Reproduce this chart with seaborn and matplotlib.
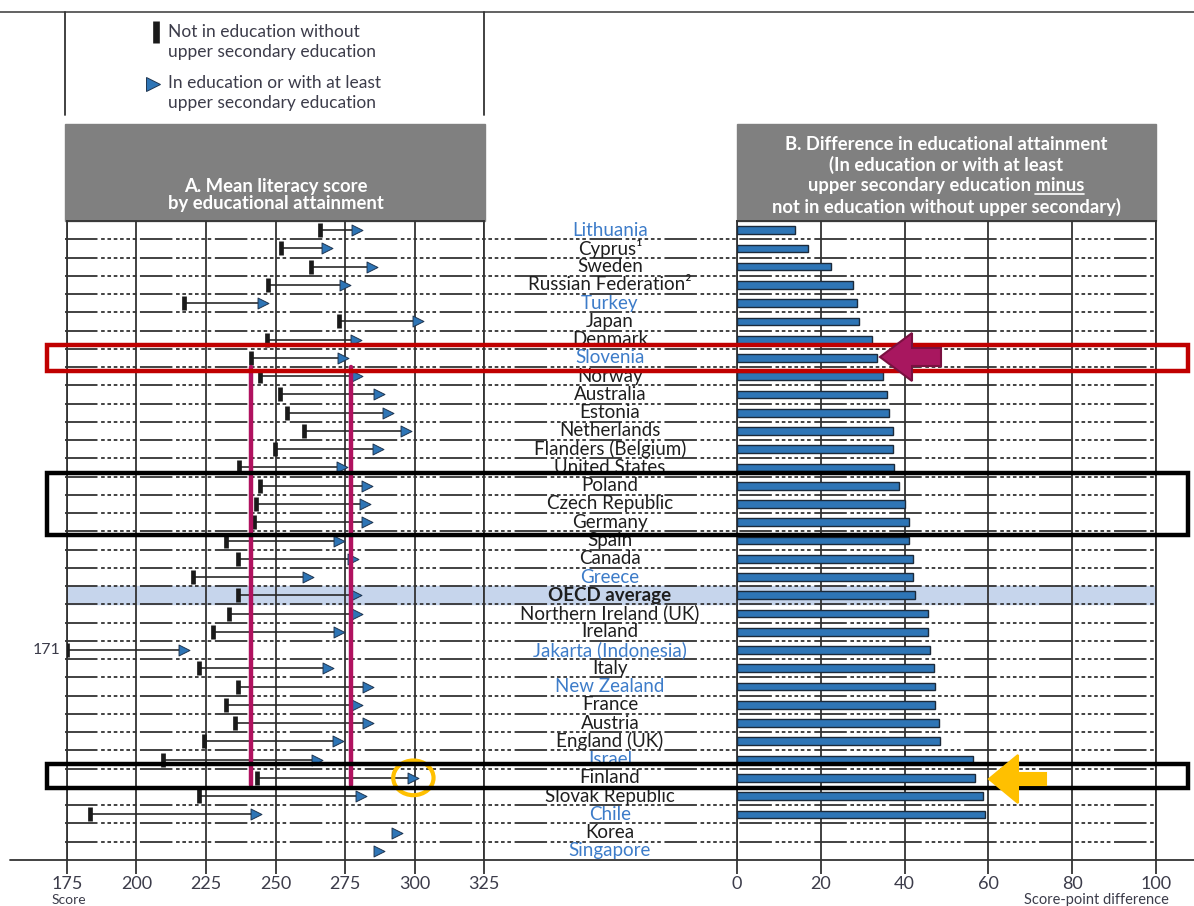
import numpy as np
import pandas as pd
import matplotlib
matplotlib.use("Agg")
import matplotlib.pyplot as plt
import seaborn as sns
from matplotlib.lines import Line2D
from matplotlib.patches import Rectangle, Ellipse, Polygon

# Daten
laender = ["Lithuania", "Cyprus¹", "Sweden", "Russian Federation²", "Turkey", "Japan",
           "Denmark", "Slovenia", "Norway", "Australia", "Estonia", "Netherlands",
           "Flanders (Belgium)", "United States", "Poland", "Czech Republic", "Germany",
           "Spain", "Canada", "Greece", "OECD average", "Northern Ireland (UK)", "Ireland",
           "Jakarta (Indonesia)", "Italy", "New Zealand", "France", "Austria", "England (UK)",
           "Israel", "Finland", "Slovak Republic", "Chile", "Korea", "Singapore"]

partner = ["Lithuania", "Turkey", "Slovenia", "Greece", "Jakarta (Indonesia)", "New Zealand",
           "Israel", "Chile", "Singapore"]

# Not in education without upper secondary education
score_niedrig = [266.0, 252.0, 262.7, 247.2, 217.2, 272.8, 247.0, 241.1, 244.5, 251.6,
                 254.2, 260.4, 249.9, 236.8, 244.5, 243.0, 242.4, 232.2, 236.4, 220.4,
                 236.4, 233.4, 227.6, 171.0, 222.5, 236.4, 232.2, 235.4, 224.2, 209.5,
                 243.3, 222.5, 183.3, np.nan, np.nan]

# In education or with at least upper secondary education
score_hoch = [279.4, 268.6, 284.8, 275.0, 245.4, 301.2, 278.8, 274.2, 279.4, 287.3,
              290.3, 297.0, 286.7, 273.8, 282.8, 282.2, 282.8, 272.8, 278.0, 261.8,
              278.9, 279.4, 272.8, 217.2, 269.0, 283.4, 279.4, 283.4, 272.4, 265.0,
              299.6, 280.8, 242.9, 293.8, 287.3]

# Differenz (Panel B)
differenz = [13.8, 17.0, 22.4, 27.8, 28.6, 29.0, 32.3, 33.5, 34.8, 35.9,
             36.2, 37.2, 37.2, 37.5, 38.7, 40.0, 41.1, 41.1, 41.9, 42.0,
             42.4, 45.7, 45.7, 46.1, 46.9, 47.3, 47.3, 48.1, 48.5, 56.3,
             56.7, 58.7, 59.1, np.nan, np.nan]

ticks_a = [175, 200, 225, 250, 275, 300, 325]
ticks_b = [0, 20, 40, 60, 80, 100]

df = pd.DataFrame({"Land": laender, "niedrig": score_niedrig,
                   "hoch": score_hoch, "Differenz": differenz})
df["pos"] = np.arange(len(df))

sns.set_style("white")
plt.rcParams['font.family'] = ['Lato', 'DejaVu Sans']

W, H = 1194, 906
fig = plt.figure(figsize=(W / 100, H / 100), dpi=100)

def px(x, y):
    return x / W, 1 - y / H

def ax_rect(x0, x1, y0, y1):
    return [x0 / W, 1 - y1 / H, (x1 - x0) / W, (y1 - y0) / H]

blau = "#2e75b6"
dunkel = "#2a2a2a"
textgrau = "#3c3c4a"
n = len(df)
ylim = (n - 0.5, -0.5)

# Hintergrund-Achse: Zeilenlinien, OECD-Band, Ländernamen
ax_bg = fig.add_axes(ax_rect(65, 1156, 221, 860))
ax_bg.set_xlim(0, 1)
ax_bg.set_ylim(*ylim)
ax_bg.axis("off")
oecd = df.index[df["Land"] == "OECD average"][0]
ax_bg.axhspan(oecd - 0.5, oecd + 0.5, xmin=0.002, xmax=1, color="#c6d5ec", zorder=0)
for i in range(n - 1):
    ax_bg.axhline(i + 0.5, color="#333333", lw=1.3,
                  linestyle=(0, (18, 2, 2, 1.5, 2, 1.5, 2, 1.5, 2, 1.5, 2, 1.5, 2, 2)), zorder=1)
for i, land in enumerate(df["Land"]):
    farbe = "#3d7cc9" if land in partner else "#1e1e1e"
    gewicht = "bold" if land == "OECD average" else "normal"
    ax_bg.text(0.4995, i, land, ha="center", va="center", fontsize=13.5,
               color=farbe, fontweight=gewicht, zorder=3)

# Panel A
ax_a = fig.add_axes(ax_rect(67, 484, 221, 860))
ax_a.set_facecolor("none")
ax_a.set_xlim(175, 325)
ax_a.set_ylim(*ylim)
niedrig_plot = df["niedrig"].clip(lower=175)
ax_a.hlines(df["pos"], niedrig_plot, df["hoch"] - 1.5, color=dunkel, lw=1.2, zorder=3)
ax_a.plot(niedrig_plot, df["pos"], linestyle="none", marker="|", ms=10, mew=3.4,
          color="#1a1a1a", zorder=4)
sns.scatterplot(data=df, x="hoch", y="pos", marker=">", s=62, color=blau,
                edgecolor="#1f3550", linewidth=0.7, ax=ax_a, zorder=5, legend=False)
ax_a.set_ylim(*ylim)
ax_a.set_xticks(ticks_a)
ax_a.set_xticklabels([str(t) for t in ticks_a], fontsize=13, color=textgrau)
ax_a.set_yticks([])
ax_a.set_xlabel("")
ax_a.set_ylabel("")
ax_a.grid(axis="x", color="#333333", lw=1.3)
ax_a.tick_params(axis="x", direction="out", length=10, width=1.3, color="#333333", pad=1.5,
                 bottom=True)
for s in ["left", "right", "top"]:
    ax_a.spines[s].set_color("#333333")
    ax_a.spines[s].set_linewidth(1.3)
ax_a.spines["bottom"].set_visible(False)
# Wert ausserhalb der Achse (Jakarta)
for i, v in enumerate(df["niedrig"]):
    if v < 175:
        ax_a.text(-0.015, i, f"{v:.0f}", transform=ax_a.get_yaxis_transform(),
                  ha="right", va="center", fontsize=11.5, color=textgrau)

# Panel B
ax_b = fig.add_axes(ax_rect(737, 1156, 221, 860))
ax_b.set_facecolor("none")
sns.barplot(data=df, x="Differenz", y="Land", orient="h", color=blau, saturation=1,
            edgecolor="#1c2a3a", linewidth=1, width=0.42, ax=ax_b, zorder=3)
ax_b.set_xlim(0, 100)
ax_b.set_ylim(*ylim)
ax_b.set_xticks(ticks_b)
ax_b.set_xticklabels([str(t) for t in ticks_b], fontsize=13, color=textgrau)
ax_b.set_yticks([])
ax_b.set_xlabel("")
ax_b.set_ylabel("")
ax_b.grid(axis="x", color="#333333", lw=1.3)
ax_b.set_axisbelow(True)
ax_b.tick_params(axis="x", direction="out", length=10, width=1.3, color="#333333", pad=1.5,
                 bottom=True)
for s in ["left", "right", "top"]:
    ax_b.spines[s].set_color("#333333")
    ax_b.spines[s].set_linewidth(1.3)
ax_b.spines["bottom"].set_visible(False)

# Grundlinie unten und oben
fig.add_artist(Line2D([px(10, 0)[0], 1], [px(0, 860)[1]] * 2, color="#333333", lw=1.3))
fig.add_artist(Line2D([0, 1], [px(0, 12)[1]] * 2, color="#555555", lw=1.3))
for xx in [65, 484]:
    fig.add_artist(Line2D([px(xx, 0)[0]] * 2, [px(0, 12)[1], px(0, 115)[1]],
                          color="#333333", lw=1.3))

fig.text(*px(69, 900), "Score", ha="center", va="center", fontsize=10, color=textgrau)
fig.text(*px(1096, 900), "Score-point difference", ha="center", va="center",
         fontsize=10.5, color=textgrau)

# Legende
fig.add_artist(Line2D([px(156, 0)[0]], [px(0, 32)[1]], marker="|", ms=16, mew=4.8,
                      color="#1a1a1a", linestyle="none"))
fig.text(*px(168, 42), "Not in education without\nupper secondary education",
         ha="left", va="center", fontsize=12.5, color=textgrau, linespacing=1.25)
fig.add_artist(Line2D([px(153, 0)[0]], [px(0, 84)[1]], marker=">", ms=10, color=blau,
                      mec="#1f3550", mew=0.7, linestyle="none"))
fig.text(*px(168, 93), "In education or with at least\nupper secondary education",
         ha="left", va="center", fontsize=12.5, color=textgrau, linespacing=1.25)

# Kopfzeilen
fig.add_artist(Rectangle(px(65, 221), 420 / W, 97 / H, color="#808080", zorder=0))
fig.add_artist(Rectangle(px(737, 221), 419 / W, 97 / H, color="#808080", zorder=0))
fig.text(*px(276, 195), "A. Mean literacy score\nby educational attainment", ha="center",
         va="center", fontsize=13.3, color="white", fontweight="bold", linespacing=1.05)
zeilen_b = ["B. Difference in educational attainment", "(In education or with at least",
            "upper secondary education minus",
            "not in education without upper secondary)"]
b_texte = []
for k, z in enumerate(zeilen_b):
    b_texte.append(fig.text(*px(946, 144 + k * 21), z, ha="center", va="center",
                            fontsize=13.2, color="white", fontweight="bold"))
renderer = fig.canvas.get_renderer()
bb = b_texte[2].get_window_extent(renderer)
tmp = fig.text(0, 0, "minus", fontsize=13.2, fontweight="bold")
w_minus = tmp.get_window_extent(renderer).width
tmp.remove()
fig.add_artist(Line2D([(bb.x1 - w_minus) / W, bb.x1 / W], [(bb.y0 + 1) / H] * 2,
                      color="white", lw=1.2))

# Markierungen
for (x0, y0, x1, y1, farbe) in [(47, 345, 1188, 371, "#c00000"),
                                (47, 473, 1188, 535, "#000000"),
                                (47, 764, 1188, 788, "#000000")]:
    fig.add_artist(Rectangle(px(x0, y1), (x1 - x0) / W, (y1 - y0) / H, fill=False,
                             edgecolor=farbe, lw=3.2, zorder=10))

slo = df.index[df["Land"] == "Slovenia"][0]
fin = df.index[df["Land"] == "Finland"][0]
for xv in [df.loc[slo, "niedrig"], df.loc[slo, "hoch"] + 3]:
    ax_a.plot([xv, xv], [slo + 0.5, fin + 0.4], color="#b0125f", lw=3.2, zorder=9,
              solid_capstyle="round")

ax_a.add_patch(Ellipse((df.loc[fin, "hoch"], fin), 14.5, 1.9, fill=False,
                       edgecolor="#ffc000", lw=3, zorder=10, clip_on=False))

def pfeil(spitze_x, y, kopf, schwanz_x, halb_kopf, halb_schwanz, farbe, rand):
    pts = [(spitze_x, y), (kopf, y - halb_kopf), (kopf, y - halb_schwanz),
           (schwanz_x, y - halb_schwanz), (schwanz_x, y + halb_schwanz),
           (kopf, y + halb_schwanz), (kopf, y + halb_kopf)]
    fig.add_artist(Polygon([px(a, b) for a, b in pts], closed=True, facecolor=farbe,
                           edgecolor=rand, lw=1.5, zorder=11))

pfeil(880, 357, 912, 941, 24, 9, "#a8175f", "#7a1040")
pfeil(989, 779, 1018, 1046, 24, 6, "#ffc000", "#ffc000")

plt.savefig("out.png", dpi=100)
